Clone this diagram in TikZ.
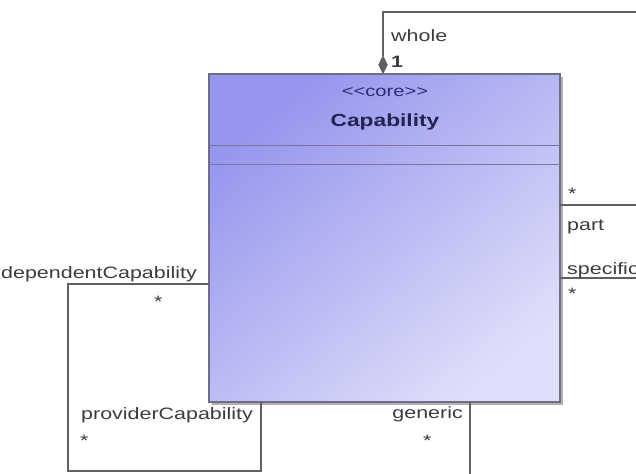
\documentclass[tikz,border=0pt]{standalone}
\usepackage{fontspec}
\setmainfont[FakeStretch=1.3]{Liberation Sans}
\usetikzlibrary{shapes.geometric,shadows}
\definecolor{lineC}{RGB}{95,95,100}
\definecolor{txtC}{RGB}{60,60,65}
\definecolor{boxTL}{RGB}{150,150,238}
\definecolor{boxBR}{RGB}{222,222,250}
\definecolor{boxBorder}{RGB}{110,110,135}
\definecolor{sepC}{RGB}{125,115,155}
\definecolor{stereoC}{RGB}{45,45,120}
\definecolor{nameC}{RGB}{35,35,80}
\definecolor{shadowC}{RGB}{175,175,180}
\begin{document}
\begin{tikzpicture}[x=1pt,y=-1pt,
  assoc/.style={draw=lineC,line width=1.3pt},
  lbl/.style={text=txtC,font=\fontsize{16.5}{18}\selectfont,inner sep=0pt},
  classbox/.style={draw=boxBorder,line width=1.2pt,minimum width=351pt,minimum height=328pt,
    inner sep=0pt,top color=boxTL,bottom color=boxBR,shading angle=40,
    drop shadow={shadow xshift=3pt,shadow yshift=-3pt,fill=shadowC,opacity=1}},
  sep/.style={draw=sepC,line width=1pt},
  compo/.style={diamond,fill=lineC,draw=lineC,minimum width=9pt,minimum height=18pt,inner sep=0pt}
]
\useasboundingbox (0,0) rectangle (636,473);
\fill[white] (0,0) rectangle (636,473);

% class
\node[classbox] (cap) at (384.5,238) {};
\draw[sep] (209,146) -- (560,146);
\draw[sep] (209,164) -- (560,164);
\node[anchor=base,text=stereoC,inner sep=0pt,font=\fontsize{15.5}{17}\selectfont] (stereo) at (385,97) {{<}{<}core{>}{>}};
\node[anchor=base,text=nameC,inner sep=0pt,font=\fontsize{17.5}{19}\selectfont\bfseries] (name) at (385,127) {Capability};

% whole / part composition
\node[compo,anchor=south] (dia) at (383,74) {};
\coordinate (wholeFar) at (640,12);
\coordinate (partEnd) at (560,205);
\coordinate (partFar) at (640,205);
\draw[assoc] (dia.north) |- (wholeFar);
\draw[assoc] (partEnd) -- (partFar);
\node[lbl,anchor=base west] (whole) at (391,42) {whole};
\node[lbl,anchor=base west,font=\fontsize{16.5}{18}\selectfont\bfseries] (one) at (391,68) {1};
\node[lbl,anchor=base west] (partStar) at (568,199) {*};
\node[lbl,anchor=base west] (part) at (567,230) {part};

% generic / specific
\coordinate (specEnd) at (560,278);
\coordinate (specFar) at (640,278);
\coordinate (genEnd) at (470,402);
\coordinate (genFar) at (470,480);
\draw[assoc] (specEnd) -- (specFar);
\draw[assoc] (genEnd) -- (genFar);
\node[lbl,anchor=base west] (specific) at (567,274) {specific};
\node[lbl,anchor=base west] (specStar) at (568,299) {*};
\node[lbl,anchor=base east] (generic) at (463,418) {generic};
\node[lbl,anchor=base west] (genStar) at (423,446) {*};

% dependent / provider
\coordinate (depEnd) at (209,284);
\coordinate (depC1) at (68,284);
\coordinate (depC2) at (68,471);
\coordinate (provC) at (261,471);
\coordinate (provEnd) at (261,402);
\draw[assoc] (depEnd) -- (depC1) -- (depC2) -- (provC) -- (provEnd);
\node[lbl,anchor=base east] (dep) at (197,278) {dependentCapability};
\node[lbl,anchor=base west] (depStar) at (154,307) {*};
\node[lbl,anchor=base west] (prov) at (81,419) {providerCapability};
\node[lbl,anchor=base west] (provStar) at (80,446) {*};
\end{tikzpicture}
\end{document}
